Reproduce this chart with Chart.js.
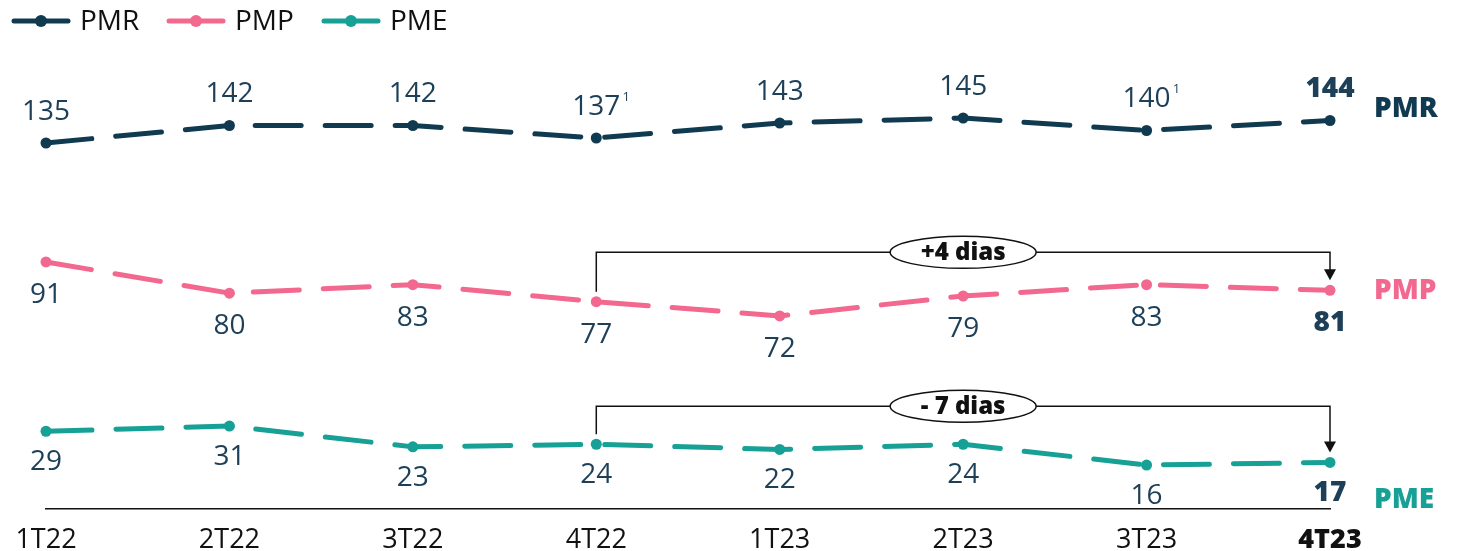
<!DOCTYPE html>
<html>
<head>
<meta charset="utf-8">
<script src="https://cdn.jsdelivr.net/npm/chart.js@4.4.1/dist/chart.umd.min.js"></script>
<style>
  html, body { margin: 0; padding: 0; background: #fff; }
  #wrap { width: 1459px; height: 551px; }
</style>
</head>
<body>
<div id="wrap"><canvas id="chart" width="1459" height="551"></canvas></div>
<script>
// data
const quarters = ["1T22", "2T22", "3T22", "4T22", "1T23", "2T23", "3T23", "4T23"];
const pmr = [135, 142, 142, 137, 143, 145, 140, 144];
const pmp = [91, 80, 83, 77, 72, 79, 83, 81];
const pme = [29, 31, 23, 24, 22, 24, 16, 17];
const pmrNotes = ["", "", "", "1", "", "", "1", ""];
const deltaLabels = ["+4 dias", "- 7 dias"];

const NAVY = "#0f3a50";
const PINK = "#f2688e";
const TEAL = "#17a096";
const LABEL = "#1d3f58";
const FONT = "'Open Sans', 'Noto Sans', sans-serif";

// each series gets its own hidden axis so the three lines sit in separate bands
const seriesDefs = [
  { name: "PMR", data: pmr, color: NAVY, axis: "yPMR", min: -11.4, max: 168.2, labelDy: -31, sideDy: -11 },
  { name: "PMP", data: pmp, color: PINK, axis: "yPMP", min: 4.0, max: 162.1, labelDy: 33, sideDy: 1 },
  { name: "PME", data: pme, color: TEAL, axis: "yPME", min: -0.9, max: 171.8, labelDy: 31, sideDy: 38 }
];

const last = quarters.length - 1;

const overlay = {
  id: "overlay",
  afterDatasetsDraw(chart) {
    const ctx = chart.ctx;
    ctx.save();
    ctx.textAlign = "center";
    ctx.textBaseline = "middle";

    // value labels
    seriesDefs.forEach((s, di) => {
      const meta = chart.getDatasetMeta(di);
      meta.data.forEach((pt, i) => {
        const bold = i === last;
        ctx.font = (bold ? "800 " : "400 ") + "28px " + FONT;
        ctx.fillStyle = LABEL;
        const y = pt.y + s.labelDy;
        const txt = String(s.data[i]);
        ctx.fillText(txt, pt.x, y);
        if (di === 0 && pmrNotes[i]) {
          const w = ctx.measureText(txt).width;
          ctx.font = "400 13px " + FONT;
          ctx.fillText(pmrNotes[i], pt.x + w / 2 + 6, y - 10);
        }
      });
      // series name at the right
      const lp = meta.data[last];
      ctx.font = "800 28px " + FONT;
      ctx.fillStyle = s.color;
      ctx.textAlign = "left";
      ctx.fillText(s.name, chart.chartArea.right + 44, lp.y + s.sideDy);
      ctx.textAlign = "center";
    });

    // change brackets: 4T22 -> 4T23 for PMP and PME
    [1, 2].forEach((di, k) => {
      const meta = chart.getDatasetMeta(di);
      const a = meta.data[3], b = meta.data[last];
      const top = Math.min(a.y, b.y) - 38;
      ctx.strokeStyle = "#111";
      ctx.fillStyle = "#111";
      ctx.lineWidth = 1.5;
      ctx.beginPath();
      ctx.moveTo(a.x, a.y - 10);
      ctx.lineTo(a.x, top);
      ctx.lineTo(b.x, top);
      ctx.lineTo(b.x, b.y - 20);
      ctx.stroke();
      ctx.beginPath();
      ctx.moveTo(b.x - 6, b.y - 21);
      ctx.lineTo(b.x + 6, b.y - 21);
      ctx.lineTo(b.x, b.y - 10);
      ctx.closePath();
      ctx.fill();

      const cx = (a.x + b.x) / 2;
      ctx.beginPath();
      ctx.ellipse(cx, top, 73, 16, 0, 0, Math.PI * 2);
      ctx.fillStyle = "#fff";
      ctx.fill();
      ctx.stroke();
      ctx.fillStyle = "#111";
      ctx.font = "800 24px " + FONT;
      ctx.fillText(deltaLabels[k], cx, top + 1);
    });
    ctx.restore();
  },
  afterDraw(chart) {
    // legend: line-dot-line markers
    const ctx = chart.ctx;
    ctx.save();
    ctx.textBaseline = "middle";
    ctx.textAlign = "left";
    ctx.font = "400 28px " + FONT;
    let x = 12;
    const y = 21;
    seriesDefs.forEach(s => {
      ctx.strokeStyle = s.color;
      ctx.fillStyle = s.color;
      ctx.lineWidth = 5;
      ctx.lineCap = "round";
      ctx.beginPath();
      ctx.moveTo(x + 2, y);
      ctx.lineTo(x + 56, y);
      ctx.stroke();
      ctx.beginPath();
      ctx.arc(x + 29, y, 6, 0, Math.PI * 2);
      ctx.fill();
      ctx.fillStyle = "#111";
      ctx.fillText(s.name, x + 68, y + 1);
      x += 155;
    });
    ctx.restore();
  }
};

const scales = {
  x: {
    type: "category",
    offset: false,
    grid: { display: false },
    border: { display: true, color: "#111", width: 1.5 },
    ticks: {
      autoSkip: false,
      maxRotation: 0,
      padding: 7,
      color: "#111",
      font: (c) => ({ family: FONT, size: 27, weight: c.index === last ? "800" : "400" })
    },
    afterFit(scale) { scale.height = 42; }
  }
};
seriesDefs.forEach(s => {
  scales[s.axis] = { display: false, min: s.min, max: s.max };
});

new Chart(document.getElementById("chart"), {
  type: "line",
  data: {
    labels: quarters,
    datasets: seriesDefs.map(s => ({
      label: s.name,
      data: s.data,
      yAxisID: s.axis,
      borderColor: s.color,
      backgroundColor: s.color,
      borderWidth: 5,
      borderDash: [46, 24],
      borderCapStyle: "round",
      pointRadius: 5.5,
      pointBorderWidth: 0,
      pointBackgroundColor: s.color,
      tension: 0,
      clip: false
    }))
  },
  options: {
    responsive: false,
    animation: false,
    layout: { padding: { left: 46, right: 129, top: 60, bottom: 0 } },
    plugins: {
      legend: { display: false },
      tooltip: { enabled: false }
    },
    scales: scales
  },
  plugins: [overlay]
});
</script>
</body>
</html>
